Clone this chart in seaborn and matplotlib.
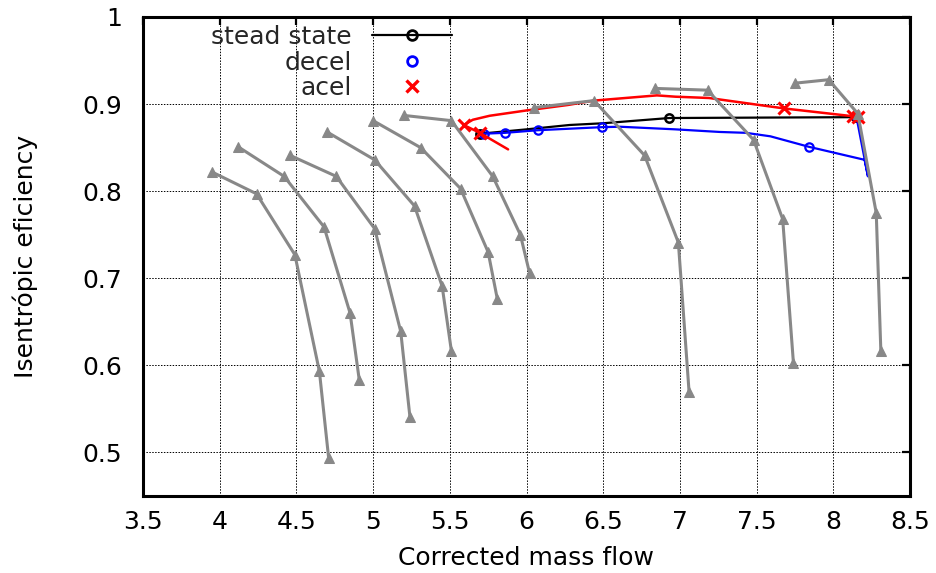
import numpy as np
import pandas as pd
import matplotlib
matplotlib.use("Agg")
import matplotlib.pyplot as plt
from matplotlib.lines import Line2D
from matplotlib.ticker import FormatStrFormatter
import seaborn as sns

# constant speed lines of the compressor map
speed_x = [
    [3.95, 4.24, 4.49, 4.65, 4.71],
    [4.12, 4.42, 4.68, 4.85, 4.91],
    [4.46, 4.76, 5.01, 5.18, 5.24],
    [4.70, 5.01, 5.27, 5.45, 5.51],
    [5.00, 5.31, 5.57, 5.75, 5.81],
    [5.20, 5.51, 5.78, 5.96, 6.02],
    [6.05, 6.44, 6.77, 6.99, 7.06],
    [6.84, 7.18, 7.48, 7.67, 7.74],
    [7.75, 7.97, 8.16, 8.28, 8.31],
]
speed_y = [
    [0.822, 0.797, 0.727, 0.593, 0.494],
    [0.851, 0.817, 0.759, 0.660, 0.583],
    [0.841, 0.817, 0.757, 0.639, 0.541],
    [0.868, 0.836, 0.783, 0.691, 0.617],
    [0.881, 0.850, 0.803, 0.730, 0.676],
    [0.887, 0.881, 0.817, 0.750, 0.706],
    [0.896, 0.904, 0.841, 0.741, 0.569],
    [0.918, 0.916, 0.859, 0.768, 0.603],
    [0.924, 0.928, 0.889, 0.775, 0.616],
]

steady_x = [5.70, 6.00, 6.28, 6.50, 6.93, 8.15]
steady_y = [0.866, 0.871, 0.876, 0.878, 0.884, 0.885]
steady_marks = [0, 4, 5]

decel_x = [8.15, 8.226, 8.204, 7.84, 7.59, 7.43, 7.26, 6.97, 6.61, 6.49, 6.075, 5.86, 5.72]
decel_y = [0.886, 0.817, 0.836, 0.851, 0.863, 0.867, 0.868, 0.871, 0.874, 0.8735, 0.870, 0.867, 0.866]
decel_marks = [0, 3, 9, 10, 11, 12]

acel_x = [5.88, 5.695, 5.591, 5.65, 5.76, 6.00, 6.27, 6.44, 6.85, 6.97, 7.19, 7.68, 8.13, 8.16]
acel_y = [0.848, 0.867, 0.876, 0.882, 0.8866, 0.8927, 0.899, 0.904, 0.910, 0.9085, 0.907, 0.895, 0.886, 0.8855]
acel_marks = [1, 2, 11, 12, 13]

x_ticks = [3.5, 4, 4.5, 5, 5.5, 6, 6.5, 7, 7.5, 8, 8.5]
y_ticks = [0.5, 0.6, 0.7, 0.8, 0.9, 1.0]

sns.set_theme(style="white")
plt.rcParams['font.family'] = ['DejaVu Sans']
plt.rcParams['font.size'] = 18

fig = plt.figure(figsize=(9.36, 5.73), dpi=100)
ax = fig.add_axes([143 / 936, 1 - 496 / 573, 767 / 936, 479 / 573])

speed_df = pd.DataFrame({
    "x": np.concatenate(speed_x),
    "y": np.concatenate(speed_y),
    "line": np.repeat(np.arange(len(speed_x)), [len(s) for s in speed_x]),
})

sns.lineplot(x=steady_x, y=steady_y, sort=False, estimator=None, ax=ax, color="black",
             lw=1.6, marker="o", markevery=steady_marks, ms=6, mfc="none", mec="black", mew=1.8, zorder=3)
sns.lineplot(x=decel_x, y=decel_y, sort=False, estimator=None, ax=ax, color="#0000ff",
             lw=1.6, marker="o", markevery=decel_marks, ms=6, mfc="none", mec="#0000ff", mew=1.6, zorder=4)
sns.lineplot(x=acel_x, y=acel_y, sort=False, estimator=None, ax=ax, color="#ff0000",
             lw=1.8, marker="x", markevery=acel_marks, ms=8, mec="#ff0000", mew=2.2, zorder=5)
sns.lineplot(data=speed_df, x="x", y="y", units="line", estimator=None, sort=False, ax=ax,
             color="#888888", lw=2.2, marker="^", ms=7, mec="#888888", mfc="#888888", zorder=6)

ax.set_xlim(3.5, 8.5)
ax.set_ylim(0.45, 1.0)
ax.set_xticks(x_ticks)
ax.set_yticks(y_ticks)
ax.xaxis.set_major_formatter(FormatStrFormatter("%g"))
ax.yaxis.set_major_formatter(FormatStrFormatter("%g"))
ax.grid(True, color="black", lw=0.7, ls=(0, (1.5, 1.5)))
ax.tick_params(direction="in", length=6, width=1.6, top=True, right=True,
               labelsize=18, colors="black")
ax.tick_params(axis="x", pad=10)
ax.tick_params(axis="y", pad=15)
for sp in ax.spines.values():
    sp.set_visible(True)
    sp.set_color("black")
    sp.set_linewidth(2.2)

ax.set_xlabel("Corrected mass flow", fontsize=18, color="black")
ax.set_ylabel("Isentrópic eficiency", fontsize=18, color="black")
ax.xaxis.set_label_coords(0.5, -0.105)
ax.yaxis.set_label_coords(-0.137, 0.5)

handles = [
    Line2D([], [], color="black", lw=1.6, marker="o", ms=7, mfc="none", mew=2),
    Line2D([], [], ls="none", marker="o", ms=7, mfc="none", mec="#0000ff", mew=2),
    Line2D([], [], ls="none", marker="x", ms=8, mec="#ff0000", mew=2.4),
]
fig.legend(handles, ["stead state", "decel", "acel"], loc="upper right",
           bbox_to_anchor=(452 / 936, 1 - 25 / 573), frameon=False, markerfirst=False,
           handlelength=3.2, handletextpad=0.8, labelspacing=0.06, borderpad=0,
           borderaxespad=0, fontsize=18)

fig.savefig("out.png", dpi=100)
